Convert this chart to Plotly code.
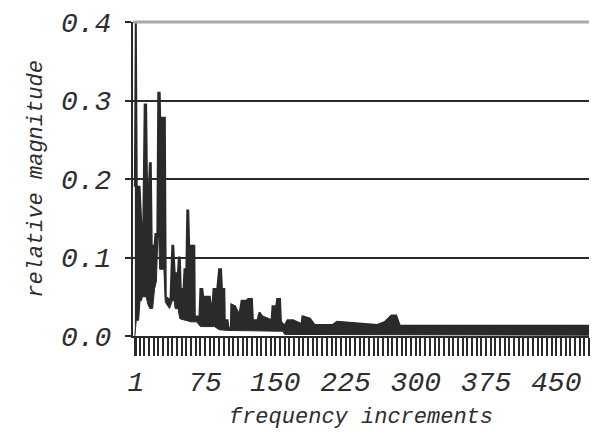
import plotly.graph_objects as go

# ---- data ----
# upper envelope of the dense magnitude trace (frequency increment, relative magnitude)
upper_bins = [0, 1, 2, 5, 7, 9, 10.5, 12, 13, 15, 16, 17, 18, 21, 22, 24, 25, 26.5, 27, 32,
              33, 38, 40, 41, 42.5, 46, 47, 48, 49, 52, 53, 55, 56, 57, 58, 63.5, 64, 69,
              70, 72, 73, 80, 81, 83, 84, 88, 90, 92, 93, 95.5, 96, 99, 100, 102.5, 103,
              107, 110, 112, 114, 119, 121, 125, 126, 131, 133, 136, 142, 146, 147, 151,
              152, 155, 156, 160, 163, 169, 178, 179, 187, 192, 211, 216, 259, 267, 274,
              279, 283, 485]
upper_vals = [0.19, 0.40, 0.19, 0.19, 0.14, 0.14, 0.295, 0.295, 0.19, 0.19, 0.22, 0.22, 0.115,
              0.115, 0.13, 0.13, 0.31, 0.31, 0.278, 0.278, 0.05, 0.045, 0.115, 0.115, 0.08,
              0.08, 0.10, 0.10, 0.06, 0.06, 0.085, 0.085, 0.16, 0.16, 0.115, 0.115, 0.025,
              0.025, 0.06, 0.06, 0.05, 0.05, 0.04, 0.04, 0.06, 0.06, 0.085, 0.085, 0.06,
              0.06, 0.02, 0.02, 0.01, 0.01, 0.04, 0.038, 0.03, 0.03, 0.045, 0.045, 0.047,
              0.047, 0.02, 0.02, 0.03, 0.025, 0.022, 0.02, 0.038, 0.038, 0.047, 0.047,
              0.018, 0.013, 0.02, 0.02, 0.015, 0.025, 0.022, 0.014, 0.014, 0.018, 0.014,
              0.018, 0.026, 0.026, 0.013, 0.013]

# lower envelope of the same trace
lower_bins = [0, 1.5, 4, 5.5, 7, 8, 12, 14, 16, 19, 21, 23, 24.5, 25.5, 26.5, 31, 32.5, 37,
              40, 42, 43, 46, 48, 55, 60, 66, 70, 85, 90, 100, 105, 158, 160, 485]
lower_vals = [0.0, 0.02, 0.02, 0.045, 0.045, 0.05, 0.05, 0.04, 0.035, 0.035, 0.06, 0.07,
              0.125, 0.125, 0.085, 0.085, 0.043, 0.035, 0.045, 0.045, 0.035, 0.035, 0.022,
              0.02, 0.018, 0.018, 0.012, 0.012, 0.008, 0.007, 0.007, 0.006, 0.002, 0.001]

x_ticks = [1, 75, 150, 225, 300, 375, 450]
y_ticks = [0.0, 0.1, 0.2, 0.3, 0.4]
y_ticktext = ["0.0", "0.1", "0.2", "0.3", "0.4"]

DARK = "#2a2a2a"
TEXT = "#2e2e2e"
FONT = "Liberation Mono"

fig = go.Figure()
fig.add_trace(go.Scatter(x=lower_bins, y=lower_vals, mode="lines",
                         line=dict(color=DARK, width=1), hoverinfo="skip"))
fig.add_trace(go.Scatter(x=upper_bins, y=upper_vals, mode="lines",
                         line=dict(color=DARK, width=2), fill="tonexty",
                         fillcolor=DARK))

fig.update_layout(
    width=592, height=438,
    margin=dict(l=133, r=3, t=22, b=102),
    paper_bgcolor="white", plot_bgcolor="white",
    showlegend=False,
    xaxis=dict(
        range=[-2, 485],
        tickmode="array", tickvals=x_ticks,
        ticks="outside", ticklen=18, tickwidth=2, tickcolor=DARK,
        showline=True, linecolor=DARK, linewidth=2,
        showgrid=False, zeroline=False,
        minor=dict(dtick=5, tick0=0, ticks="outside", ticklen=18, tickwidth=2,
                   tickcolor=DARK, showgrid=False),
        tickfont=dict(family=FONT, size=28, style="italic", color=TEXT),
        ticklabelstandoff=1,
        title=dict(text="frequency increments",
                   font=dict(family=FONT, size=22, style="italic", color=TEXT),
                   standoff=10),
    ),
    yaxis=dict(
        range=[0, 0.4],
        tickmode="array", tickvals=y_ticks, ticktext=y_ticktext,
        ticks="outside", ticklen=6, tickwidth=1.5, tickcolor=DARK,
        showline=True, linecolor=DARK, linewidth=2,
        showgrid=True, gridcolor=DARK, gridwidth=1.5, zeroline=False,
        tickfont=dict(family=FONT, size=28, style="italic", color=TEXT),
        ticklabelstandoff=8,
        title=dict(text="relative magnitude",
                   font=dict(family=FONT, size=22, style="italic", color=TEXT),
                   standoff=12),
    ),
    shapes=[dict(type="line", xref="paper", yref="paper", x0=0, x1=1, y0=1, y1=1,
                 line=dict(color="#aaaaaa", width=3))],
)

fig.write_html("out.html")
